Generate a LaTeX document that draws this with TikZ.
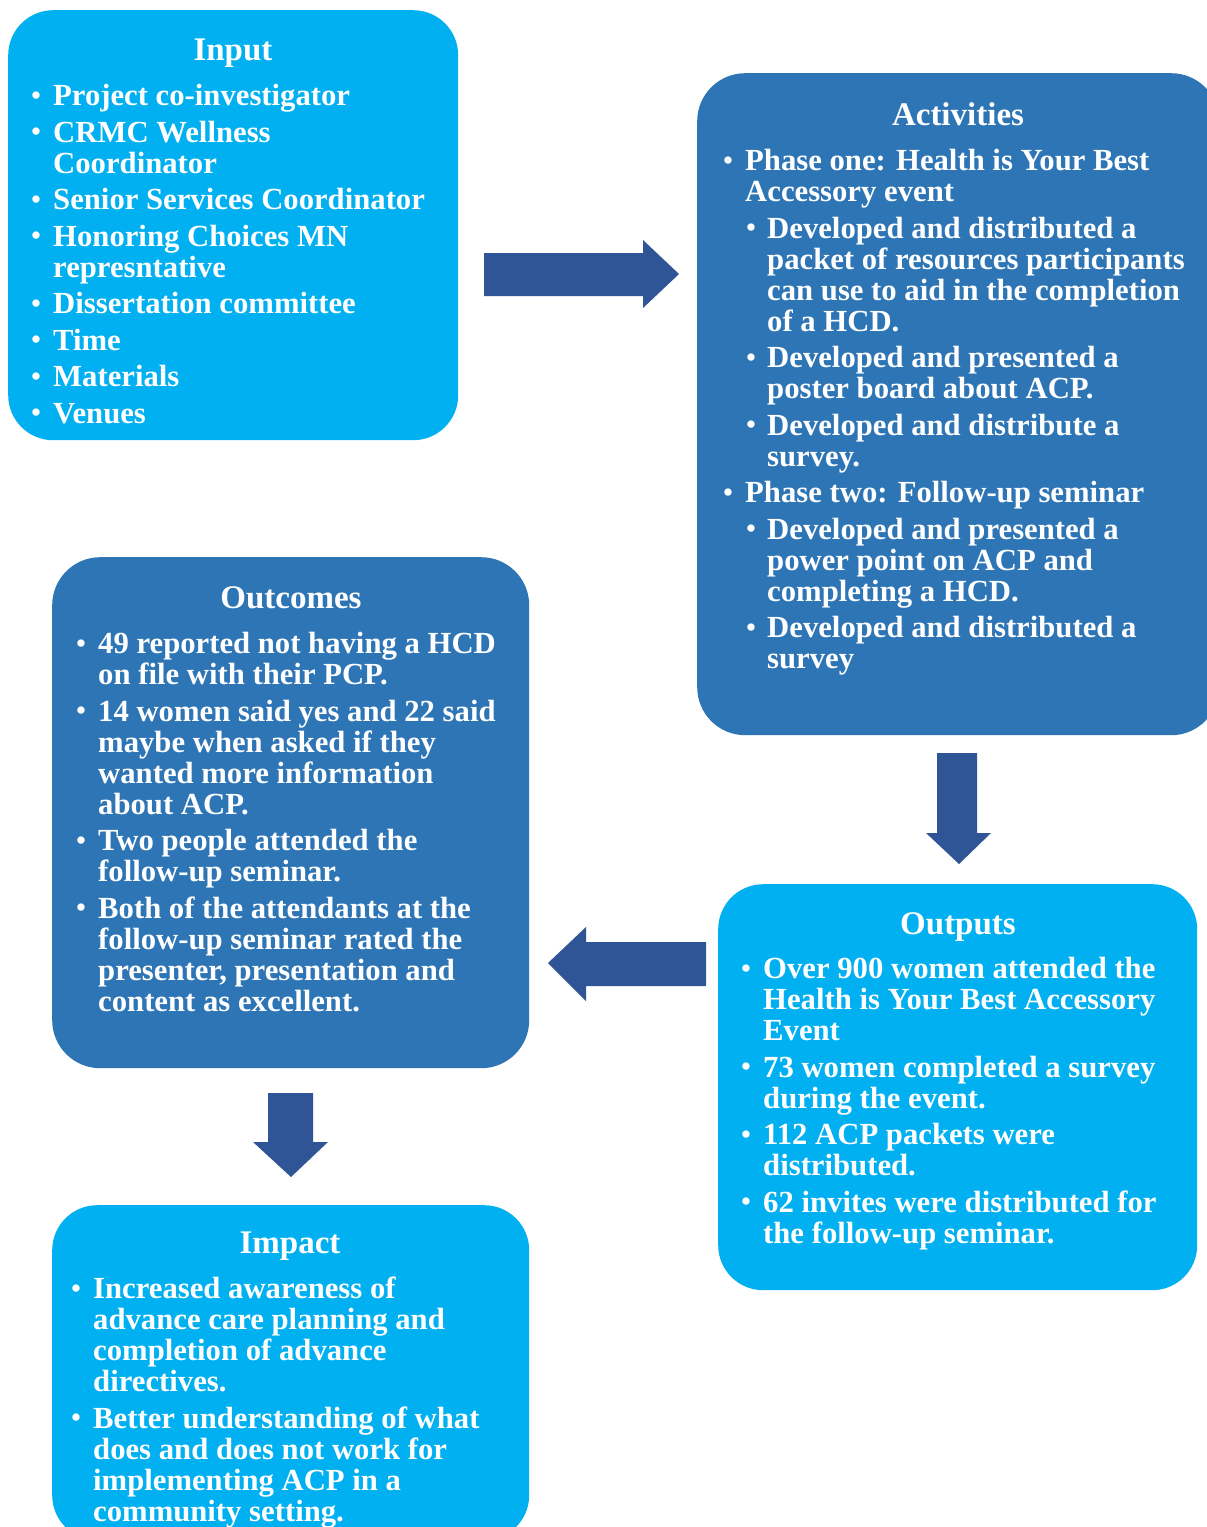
\documentclass[tikz,border=0pt]{standalone}
\usepackage{fontspec}
\setmainfont{Liberation Serif}
\definecolor{lightbox}{HTML}{00B0F0}
\definecolor{darkbox}{HTML}{2E75B6}
\definecolor{arrowblue}{HTML}{2F5597}
\newcommand{\bodyfnt}{\bfseries\fontsize{30.7}{31}\selectfont}
\newcommand{\titlefnt}{\bfseries\fontsize{33}{36}\selectfont}
\newcommand{\smallbul}{\hspace*{0.6pt}\raisebox{1.3pt}{\fontsize{27}{27}\selectfont\textbullet}}
\newcommand{\bulA}{\makebox[22.4pt][l]{\smallbul}}
\newcommand{\contA}{\hspace*{22.4pt}}
\newcommand{\bulB}{\hspace*{23pt}\makebox[21.4pt][l]{\smallbul}}
\newcommand{\contB}{\hspace*{44.4pt}}
\tikzset{
  lightpanel/.style={fill=lightbox, draw=none, rounded corners=45pt, anchor=north west, inner sep=0pt},
  darkpanel/.style={fill=darkbox, draw=none, rounded corners=48pt, anchor=north west, inner sep=0pt},
  paneltitle/.style={text=white, font=\titlefnt, anchor=base, inner sep=0pt},
  panelbody/.style={text=white, font=\bodyfnt, anchor=north west, inner sep=0pt, align=left},
  blockarrow/.style={fill=arrowblue, draw=none}
}
\begin{document}
\begin{tikzpicture}[x=1pt,y=-1pt]
\useasboundingbox (0,0) rectangle (1207,1527);
\clip (0,0) rectangle (1207,1527);
\fill[white] (0,0) rectangle (1207,1527);

% panels
\node[lightpanel, minimum width=450pt, minimum height=430pt] (input) at (8,10) {};
\node[darkpanel, minimum width=522pt, minimum height=662pt] (activities) at (697,73) {};
\node[darkpanel, minimum width=477pt, minimum height=511pt] (outcomes) at (52,557) {};
\node[lightpanel, minimum width=479pt, minimum height=406pt] (outputs) at (718,884) {};
\node[lightpanel, minimum width=477pt, minimum height=335pt] (impact) at (52,1205) {};

% titles
\node[paneltitle] (inputtitle) at (233,60.5) {Input};
\node[paneltitle] (activitiestitle) at (958,125.5) {Activities};
\node[paneltitle] (outcomestitle) at (291,608.5) {Outcomes};
\node[paneltitle] (outputstitle) at (958,934.5) {Outputs};
\node[paneltitle] (impacttitle) at (290,1253.5) {Impact};

% bodies (first baseline - 21.7)
\node[panelbody] (inputbody) at (30.6,83.8) {\strut\bulA Project co-investigator\\[5.5pt]
\bulA CRMC Wellness\\ \contA Coordinator\\[5.5pt]
\bulA Senior Services Coordinator\\[5.5pt]
\bulA Honoring Choices MN\\ \contA represntative\\[5.5pt]
\bulA Dissertation committee\\[5.5pt]
\bulA Time\\[5.5pt]
\bulA Materials\\[5.5pt]
\bulA Venues};

\node[panelbody] (activitiesbody) at (722.6,148.8) {\strut\bulA Phase one: Health is Your Best\\ \contA Accessory event\\[5.5pt]
\bulB Developed and distributed a\\ \contB packet of resources participants\\ \contB can use to aid in the completion\\ \contB of a HCD.\\[5.5pt]
\bulB Developed and presented a\\ \contB poster board about ACP.\\[5.5pt]
\bulB Developed and distribute a\\ \contB survey.\\[5.5pt]
\bulA Phase two: Follow-up seminar\\[5.5pt]
\bulB Developed and presented a\\ \contB power point on ACP and\\ \contB completing a HCD.\\[5.5pt]
\bulB Developed and distributed a\\ \contB survey};

\node[panelbody] (outcomesbody) at (75.6,631.8) {\strut\bulA 49 reported not having a HCD\\ \contA on file with their PCP.\\[5.5pt]
\bulA 14 women said yes and 22 said\\ \contA maybe when asked if they\\ \contA wanted more information\\ \contA about ACP.\\[5.5pt]
\bulA Two people attended the\\ \contA follow-up seminar.\\[5.5pt]
\bulA Both of the attendants at the\\ \contA follow-up seminar rated the\\ \contA presenter, presentation and\\ \contA content as excellent.};

\node[panelbody] (outputsbody) at (740.6,956.8) {\strut\bulA Over 900 women attended the\\ \contA Health is Your Best Accessory\\ \contA Event\\[5.5pt]
\bulA 73 women completed a survey\\ \contA during the event.\\[5.5pt]
\bulA 112 ACP packets were\\ \contA distributed.\\[5.5pt]
\bulA 62 invites were distributed for\\ \contA the follow-up seminar.};

\node[panelbody] (impactbody) at (70.6,1276.8) {\strut\bulA Increased awareness of\\ \contA advance care planning and\\ \contA completion of advance\\ \contA directives.\\[5.5pt]
\bulA Better understanding of what\\ \contA does and does not work for\\ \contA implementing ACP in a\\ \contA community setting.};

% block arrows
\fill[blockarrow] (484,253) -- (643,253) -- (643,240) -- (679,274) -- (643,308) -- (643,296) -- (484,296) -- cycle;
\fill[blockarrow] (937,753) -- (977,753) -- (977,833) -- (991,833) -- (959,864) -- (926,833) -- (937,833) -- cycle;
\fill[blockarrow] (706,942) -- (586,942) -- (586,927) -- (548,963) -- (586,1001) -- (586,986) -- (706,986) -- cycle;
\fill[blockarrow] (268,1093) -- (313,1093) -- (313,1142) -- (328,1142) -- (291,1177) -- (253,1142) -- (268,1142) -- cycle;
\end{tikzpicture}
\end{document}
